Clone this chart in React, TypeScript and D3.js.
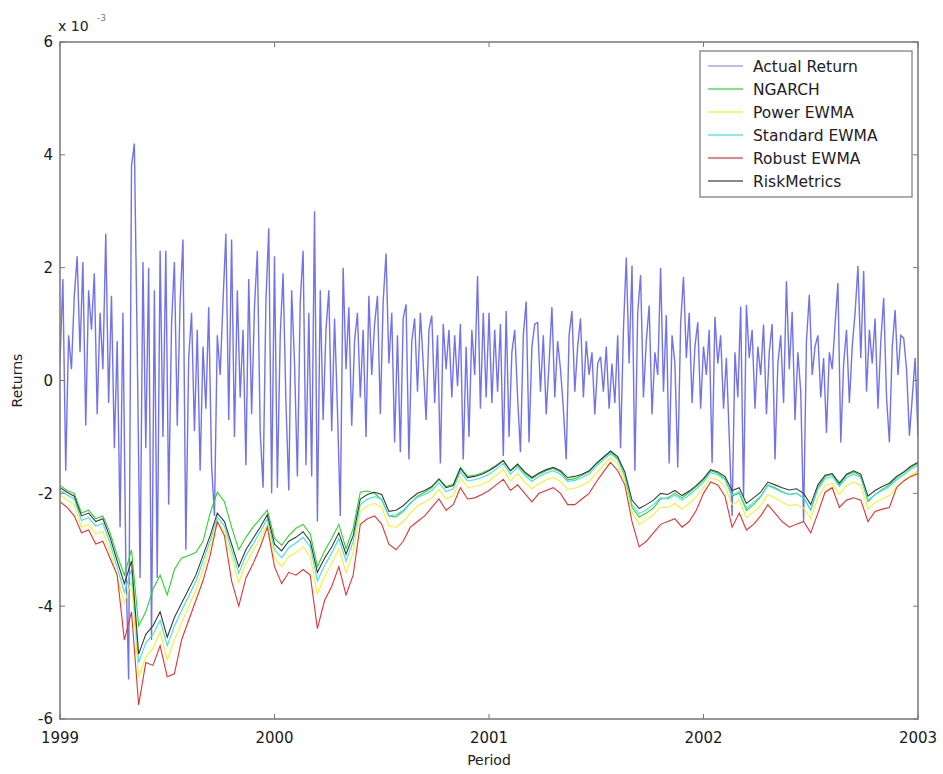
import React from 'react'
import * as d3 from 'd3'

// values in units of 1e-3
const returns1999 = [0.3, 1.8, -1.6, 0.8, 0.2, 1.5, 2.2, 0.5, 2.1, -0.8, 1.6, 0.9, 1.9, -0.6, 1.2, 0.2, 2.6, -0.4, 1.5, -1.2, 0.7, -2.6, 1.2, -3.2, -5.3, 3.8, 4.2, 0.6, -3.5, 2.1, -1.2, 2.0, -4.6, 1.6, -3.5, 2.3, -1.0, 2.3, -2.2, 1.0, 2.1, -0.8, 1.4, 2.5, -3.0, 0.4, 1.2, -0.9, 0.9, -1.6, 0.6, -0.5, 1.3, -1.5, -2.4, 0.8, 0.1, 1.4, 2.6, -0.7, 2.5, -1.0, 1.6, -0.3, 0.9, -1.5, 1.8, -0.6, 1.3, 2.3, -0.9, -1.9, 1.4, 2.7, -2.0]
const returns2000 = [2.2, -1.9, 0.8, 1.9, -0.4, -1.95, 1.6, 0.3, -1.7, 1.4, 2.3, -1.5, 1.2, -1.7, 3.0, -2.5, 1.6, -0.7, 0.9, 1.6, -0.9, 1.1, -0.5, -2.4, 2.0, 0.2, 1.3, -0.8, 0.7, 1.2, -0.3, 0.9, -1.0, 1.5, 0.1, 1.0, 1.5, -0.6, 1.4, 2.25, 0.3, 1.2, -1.1, 0.8, -1.27, 1.1, 1.35, -1.4, 0.7, 1.1, -0.2, 1.2, 0.3, -0.7, 0.9, 1.15, -0.4, 0.8, -1.47, 1.0, 0.2, 0.9, -0.3, 0.8, -0.1, 1.0, -1.4, 0.6, -1.0, 0.9, 0.1, 1.85, -0.5, 1.2, -0.3]
const returns2001 = [1.2, -0.4, 0.9, -0.2, 1.0, -1.34, 1.23, -1.0, 0.5, 0.9, -0.3, -1.27, 0.8, 1.4, -1.1, 0.6, 1.0, 1.03, -0.2, 0.8, -0.6, 0.3, 1.3, -0.3, 0.7, 0.2, -0.5, -1.4, 0.8, 1.23, -0.2, 0.6, 1.1, -0.3, 0.7, 0.1, 0.5, -0.6, 0.3, 0.42, -0.2, 0.6, -0.5, 0.3, -0.4, 0.8, -1.2, 0.9, 2.18, 0.3, 2.04, -1.6, 1.2, 1.87, -0.3, 0.7, 1.33, -0.6, 0.5, 0.1, 2.0, -0.2, 1.16, -1.47, 0.8, 0.3, -1.54, 1.0, 1.84, 0.4, 1.2, -0.4, 0.6, 1.03, -0.5]
const returns2002 = [0.6, 0.1, 0.9, -1.46, 1.13, 0.3, 0.8, -0.5, 0.4, -1.0, -2.4, 0.5, -0.3, 1.31, -2.06, 1.34, 0.4, 0.9, -0.5, 0.6, 0.1, 0.99, -0.6, 0.5, 1.0, -1.4, 0.3, 0.8, -0.4, 1.76, 0.2, 1.22, -0.7, 0.5, -0.2, -2.5, 0.7, 1.52, 0.1, 0.6, 0.8, -0.3, 0.4, -0.93, 0.5, 0.2, 1.0, 1.73, -1.1, 0.3, 0.9, -0.4, 0.6, 1.2, 2.03, 0.4, 1.94, -0.2, 0.9, 0.3, 1.1, -0.5, 0.7, 1.46, -0.3, -1.1, 0.6, 1.25, 0.1, 0.8, 0.75, 0.2, -0.98, -0.3, 0.4, -1.0]

const ngarch = [-1.86, -1.95, -2.0, -2.35, -2.3, -2.45, -2.4, -2.7, -3.1, -3.45, -3.0, -4.35, -4.1, -3.7, -3.45, -3.8, -3.35, -3.15, -3.1, -3.05, -2.85, -2.35, -1.98, -2.15, -2.6, -3.0, -2.78, -2.6, -2.45, -2.3,
  -2.8, -2.92, -2.75, -2.62, -2.55, -2.72, -3.3, -3.02, -2.8, -2.55, -2.98, -2.62, -1.98, -1.96, -2.0, -2.12, -2.4, -2.42, -2.32, -2.18, -2.05, -1.98, -1.9, -1.74, -1.88, -1.84, -1.54, -1.7, -1.68, -1.64,
  -1.58, -1.5, -1.42, -1.6, -1.5, -1.64, -1.74, -1.66, -1.6, -1.56, -1.62, -1.76, -1.74, -1.68, -1.62, -1.48, -1.36, -1.26, -1.38, -1.7, -2.25, -2.42, -2.35, -2.26, -2.1, -2.08, -2.0, -2.08, -1.98, -1.88,
  -1.76, -1.6, -1.64, -1.74, -2.05, -2.0, -2.3, -2.2, -2.06, -1.85, -1.9, -1.97, -2.02, -2.0, -2.08, -2.3, -1.9, -1.7, -1.66, -1.85, -1.68, -1.62, -1.7, -2.15, -2.02, -1.93, -1.85, -1.72, -1.63, -1.54, -1.47]
const powerEwma = [-2.02, -2.12, -2.2, -2.6, -2.55, -2.72, -2.68, -3.02, -3.48, -3.95, -3.55, -5.25, -4.9, -4.75, -4.45, -4.95, -4.6, -4.3, -4.0, -3.72, -3.35, -2.95, -2.5, -2.68, -3.12, -3.58, -3.25, -3.02, -2.8, -2.55,
  -3.15, -3.3, -3.12, -3.05, -2.95, -3.12, -3.78, -3.48, -3.25, -2.98, -3.4, -3.05, -2.32, -2.22, -2.18, -2.25, -2.58, -2.6, -2.5, -2.35, -2.22, -2.16, -2.08, -1.93, -2.1, -2.04, -1.72, -1.9, -1.88, -1.84,
  -1.78, -1.68, -1.58, -1.78, -1.65, -1.8, -1.92, -1.83, -1.76, -1.72, -1.79, -1.93, -1.91, -1.86, -1.79, -1.64, -1.5, -1.37, -1.48, -1.78, -2.32, -2.55, -2.47, -2.38, -2.25, -2.25, -2.18, -2.28, -2.18, -2.06,
  -1.9, -1.72, -1.76, -1.87, -2.2, -2.12, -2.43, -2.33, -2.22, -2.02, -2.08, -2.16, -2.22, -2.2, -2.26, -2.45, -2.08, -1.86, -1.82, -2.02, -1.86, -1.8, -1.86, -2.28, -2.16, -2.1, -2.04, -1.88, -1.78, -1.68, -1.6]
const standardEwma = [-1.95, -2.03, -2.1, -2.48, -2.43, -2.58, -2.53, -2.88, -3.32, -3.75, -3.35, -5.0, -4.65, -4.5, -4.25, -4.7, -4.35, -4.08, -3.82, -3.56, -3.2, -2.84, -2.42, -2.58, -3.0, -3.42, -3.1, -2.9, -2.68, -2.45,
  -3.0, -3.14, -2.96, -2.88, -2.78, -2.95, -3.55, -3.28, -3.06, -2.8, -3.2, -2.86, -2.2, -2.1, -2.06, -2.1, -2.4, -2.38, -2.3, -2.17, -2.07, -2.02, -1.95, -1.81, -1.97, -1.92, -1.62, -1.78, -1.76, -1.72,
  -1.66, -1.57, -1.47, -1.66, -1.53, -1.68, -1.79, -1.7, -1.64, -1.6, -1.66, -1.79, -1.77, -1.72, -1.66, -1.52, -1.4, -1.29, -1.4, -1.68, -2.2, -2.36, -2.29, -2.2, -2.08, -2.1, -2.03, -2.12, -2.03, -1.92,
  -1.8, -1.63, -1.67, -1.76, -2.03, -1.97, -2.26, -2.16, -2.05, -1.86, -1.92, -1.98, -2.02, -2.0, -2.08, -2.29, -1.92, -1.74, -1.7, -1.88, -1.72, -1.66, -1.72, -2.12, -2.02, -1.95, -1.88, -1.76, -1.67, -1.57, -1.5]
const robustEwma = [-2.15, -2.25, -2.4, -2.7, -2.65, -2.9, -2.85, -3.15, -3.45, -4.6, -4.1, -5.75, -5.0, -5.05, -4.7, -5.25, -5.2, -4.6, -4.25, -3.9, -3.55, -3.1, -2.5, -2.75, -3.55, -4.0, -3.5, -3.25, -2.95, -2.6,
  -3.3, -3.6, -3.4, -3.45, -3.35, -3.45, -4.4, -3.9, -3.65, -3.3, -3.8, -3.45, -2.55, -2.45, -2.4, -2.55, -2.9, -3.0, -2.85, -2.6, -2.5, -2.4, -2.25, -2.1, -2.3, -2.2, -1.9, -2.1, -2.08, -2.02,
  -1.95, -1.85, -1.75, -1.95, -1.85, -2.0, -2.15, -2.0, -1.95, -1.9, -2.0, -2.2, -2.2, -2.1, -2.0, -1.8, -1.62, -1.45, -1.6, -1.85, -2.5, -2.95, -2.85, -2.7, -2.55, -2.5, -2.45, -2.6, -2.5, -2.3,
  -2.0, -1.8, -1.85, -2.05, -2.6, -2.35, -2.65, -2.55, -2.4, -2.2, -2.35, -2.5, -2.6, -2.55, -2.5, -2.7, -2.35, -1.98, -1.9, -2.25, -2.12, -2.08, -2.12, -2.5, -2.32, -2.28, -2.25, -1.9, -1.78, -1.7, -1.65]
const riskMetrics = [-1.9, -1.98, -2.05, -2.4, -2.35, -2.5, -2.45, -2.78, -3.2, -3.6, -3.2, -4.85, -4.5, -4.35, -4.1, -4.55, -4.2, -3.95, -3.7, -3.45, -3.1, -2.75, -2.35, -2.5, -2.9, -3.3, -3.0, -2.8, -2.6, -2.38,
  -2.9, -3.02, -2.85, -2.78, -2.68, -2.85, -3.4, -3.15, -2.95, -2.7, -3.08, -2.75, -2.1, -2.02, -1.98, -2.02, -2.32, -2.3, -2.22, -2.1, -2.0, -1.95, -1.88, -1.75, -1.9, -1.86, -1.56, -1.72, -1.7, -1.66,
  -1.6, -1.52, -1.42, -1.6, -1.48, -1.62, -1.72, -1.64, -1.58, -1.54, -1.6, -1.72, -1.7, -1.66, -1.6, -1.47, -1.36, -1.25, -1.35, -1.62, -2.12, -2.27, -2.2, -2.12, -2.0, -2.02, -1.95, -2.04, -1.96, -1.86,
  -1.74, -1.58, -1.62, -1.7, -1.95, -1.9, -2.18, -2.08, -1.98, -1.8, -1.85, -1.9, -1.94, -1.92, -2.0, -2.2, -1.85, -1.68, -1.65, -1.82, -1.66, -1.6, -1.66, -2.05, -1.95, -1.88, -1.82, -1.7, -1.62, -1.52, -1.45]

const years = [1999, 2000, 2001, 2002, 2003]
const yTicks = [-6, -4, -2, 0, 2, 4, 6]
const seriesNames = ['Actual Return', 'NGARCH', 'Power EWMA', 'Standard EWMA', 'Robust EWMA', 'RiskMetrics']
const seriesColors = ['#3c3ce0', '#2ed12e', '#f2f230', '#3fe0e0', '#e03535', '#3a3a3a']

const W = 943, H = 774
const left = 60, right = 918, top = 42, bottom = 719
const font = 'DejaVu Sans, Arial, sans-serif'

export default function App() {
  const x = d3.scaleLinear().domain([1999, 2003]).range([left, right])
  const y = d3.scaleLinear().domain([-6, 6]).range([bottom, top])

  const returns = [...returns1999, ...returns2000, ...returns2001, ...returns2002]
  const asPoints = (vals: number[]) => vals.map((v, i) => [1999 + (4 * i) / (vals.length - 1), v] as [number, number])
  const line = d3.line<[number, number]>().x(d => x(d[0])).y(d => y(d[1]))

  const varSeries = [ngarch, powerEwma, standardEwma, robustEwma, riskMetrics]

  const legX = 700, legY = 51, legW = 212, legH = 146, rowH = 23

  return (
    <svg width={W} height={H} style={{ position: 'absolute', left: 0, top: 0, background: '#fff' }}>
      <defs>
        <clipPath id="clip"><rect x={left} y={top} width={right - left} height={bottom - top} /></clipPath>
      </defs>
      <rect x={left} y={top} width={right - left} height={bottom - top} fill="#fff" />
      <g clipPath="url(#clip)">
        <path d={line(asPoints(returns)) || ''} fill="none" stroke={seriesColors[0]} strokeOpacity={0.72} strokeWidth={1.4} />
        {varSeries.map((s, k) => (
          <path key={k} d={line(asPoints(s)) || ''} fill="none" stroke={seriesColors[k + 1]} strokeWidth={1.1} />
        ))}
      </g>

      {/* axes box */}
      <rect x={left} y={top} width={right - left} height={bottom - top} fill="none" stroke="#777" strokeWidth={1.5} />
      {yTicks.map(t => (
        <g key={t}>
          <line x1={left} x2={left + 5} y1={y(t)} y2={y(t)} stroke="#777" />
          <line x1={right - 5} x2={right} y1={y(t)} y2={y(t)} stroke="#777" />
          <text x={left - 7} y={y(t)} dy="0.36em" textAnchor="end" fontFamily={font} fontSize={15} fill="#1a1a1a">{t}</text>
        </g>
      ))}
      {years.map(t => (
        <g key={t}>
          <line x1={x(t)} x2={x(t)} y1={bottom} y2={bottom - 5} stroke="#777" />
          <line x1={x(t)} x2={x(t)} y1={top} y2={top + 5} stroke="#777" />
          <text x={x(t)} y={bottom + 24} textAnchor="middle" fontFamily={font} fontSize={15} fill="#1a1a1a">{t}</text>
        </g>
      ))}
      <text x={left - 2} y={31} fontFamily={font} fontSize={14} fill="#222">x 10</text>
      <text x={left + 37} y={21} fontFamily={font} fontSize={9} fill="#777">-3</text>
      <text x={(left + right) / 2} y={765} textAnchor="middle" fontFamily={font} fontSize={14} fill="#222">Period</text>
      <text transform={`translate(22,${(top + bottom) / 2}) rotate(-90)`} textAnchor="middle" fontFamily={font} fontSize={14} fill="#222">Returns</text>

      {/* legend */}
      <rect x={legX} y={legY} width={legW} height={legH} fill="#fff" stroke="#777" strokeWidth={1.2} />
      {seriesNames.map((n, k) => (
        <g key={n} transform={`translate(${legX},${legY + 15 + k * rowH})`}>
          <line x1={8} x2={43} y1={0} y2={0} stroke={seriesColors[k]} strokeOpacity={k === 0 ? 0.45 : 0.8} strokeWidth={1.5} />
          <text x={53} y={0} dy="0.36em" fontFamily={font} fontSize={15.5} fill="#222">{n}</text>
        </g>
      ))}
    </svg>
  )
}
